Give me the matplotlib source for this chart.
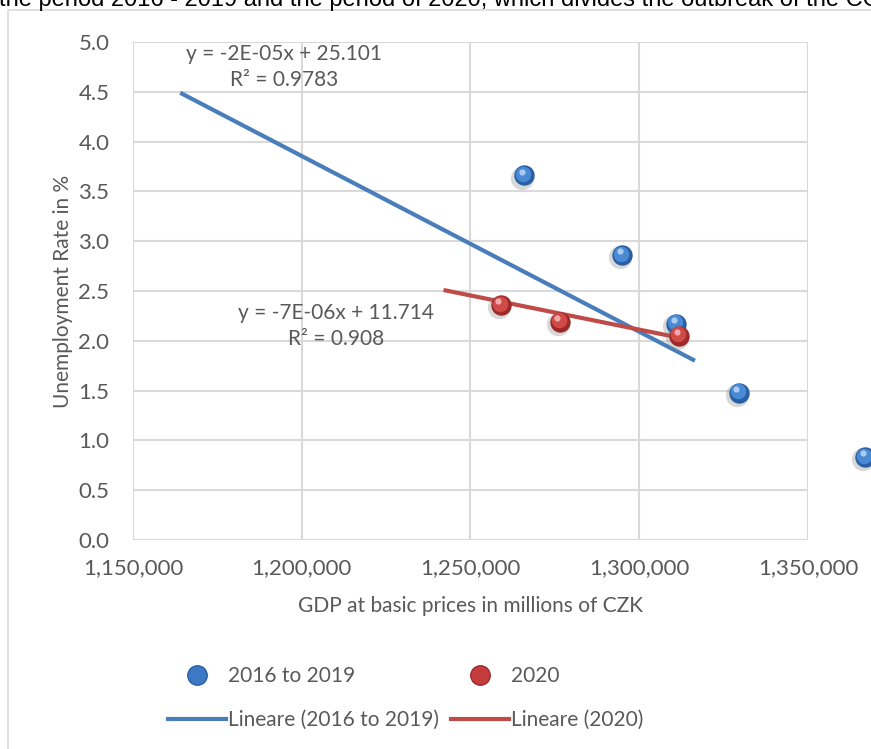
import matplotlib
matplotlib.use("Agg")
import matplotlib.pyplot as plt
from matplotlib.patches import Rectangle
from matplotlib.lines import Line2D
from matplotlib.transforms import offset_copy

plt.rcParams['font.family'] = ['Lato', 'DejaVu Sans']

# data
gdp_1619 = [1266000, 1295000, 1311000, 1329500, 1367000]
unemp_1619 = [3.66, 2.86, 2.17, 1.48, 0.83]
gdp_2020 = [1259000, 1276500, 1311800]
unemp_2020 = [2.36, 2.19, 2.05]

# trendlines (as drawn, with forecast extension)
trend_x_1619 = [1164000, 1316500]
trend_y_1619 = [4.49, 1.80]
trend_x_2020 = [1242000, 1312000]
trend_y_2020 = [2.51, 2.03]

eq_1619 = "y = -2E-05x + 25.101\nR² = 0.9783"
eq_2020 = "y = -7E-06x + 11.714\nR² = 0.908"

x_ticks = [1150000, 1200000, 1250000, 1300000, 1350000]
y_ticks = [0.0, 0.5, 1.0, 1.5, 2.0, 2.5, 3.0, 3.5, 4.0, 4.5, 5.0]

grey = "#595959"
blue_line = "#4a7ebb"
red_line = "#be4b48"
fs = 15

W, H = 871, 749
fig = plt.figure(figsize=(W / 100, H / 100), dpi=100)


def fx(px):
    return px / W


def fy(py):
    return 1 - py / H


# chart frame and cut-off text above it
fig.patches.append(Rectangle((fx(8), fy(780)), 1, fy(10) - fy(780), transform=fig.transFigure,
                             facecolor="none", edgecolor="#d9d9d9", lw=1.2, zorder=-1))
fig.text(fx(-1), fy(0), "the period 2016 - 2019 and the period of 2020, which divides the outbreak of the COVID",
         fontsize=17, family="Liberation Sans", color="black", va="center", ha="left")

ax = fig.add_axes([fx(133), fy(540), fx(808) - fx(133), fy(42) - fy(540)])
ax.set_zorder(1)
ax.patch.set_alpha(0)
ax.set_xlim(1150000, 1350000)
ax.set_ylim(0, 5)
ax.set_xticks(x_ticks)
ax.set_yticks(y_ticks)
ax.set_xticklabels([f"{v:,}" for v in x_ticks])
ax.set_yticklabels([f"{v:.1f}" for v in y_ticks])
for s in ax.spines.values():
    s.set_visible(False)
ax.grid(True, color="#d9d9d9", lw=1.5)
ax.set_axisbelow(True)
ax.tick_params(length=0, labelsize=16, colors=grey)
ax.tick_params(axis="y", pad=17)
ax.tick_params(axis="x", pad=13)
ax.set_xlabel("GDP at basic prices in millions of CZK", fontsize=fs, color=grey, labelpad=13)
ax.set_ylabel("Unemployment Rate in %", fontsize=fs, color=grey, labelpad=4)

ax.plot(trend_x_1619, trend_y_1619, color=blue_line, lw=3, zorder=3, solid_capstyle="butt")
ax.plot(trend_x_2020, trend_y_2020, color=red_line, lw=3, zorder=5, solid_capstyle="butt")


def spheres(x, y, dark, mid, light, z):
    shadow = offset_copy(ax.transData, fig=fig, x=-1.5, y=-1.5, units="points")
    ax.scatter(x, y, s=280, color="#7f7f7f", alpha=0.3, lw=0, transform=shadow, zorder=z, clip_on=False)
    ax.scatter(x, y, s=215, color=dark, lw=0, zorder=z + 0.1, clip_on=False)
    hi = offset_copy(ax.transData, fig=fig, x=-0.8, y=1.0, units="points")
    ax.scatter(x, y, s=125, color=mid, lw=0, transform=hi, zorder=z + 0.2, clip_on=False)
    hi2 = offset_copy(ax.transData, fig=fig, x=-1.8, y=2.8, units="points")
    ax.scatter(x, y, s=20, color=light, lw=0, transform=hi2, zorder=z + 0.3, clip_on=False)


spheres(gdp_1619, unemp_1619, "#2a5fa3", "#4a8ad4", "#a9cbf0", 4)
spheres(gdp_2020, unemp_2020, "#9c2a2a", "#d04a48", "#f0a9a8", 6)

fig.text(fx(284), fy(67), eq_1619, fontsize=fs, color=grey, ha="center", va="center", linespacing=1.35)
fig.text(fx(336), fy(326), eq_2020, fontsize=fs, color=grey, ha="center", va="center", linespacing=1.35)

# legend
handles = [
    Line2D([], [], ls="none", marker="o", markersize=14, markerfacecolor="#3d78c4", markeredgecolor="#2a5fa3"),
    Line2D([], [], color=blue_line, lw=3),
    Line2D([], [], ls="none", marker="o", markersize=14, markerfacecolor="#c43c3b", markeredgecolor="#9c2a2a"),
    Line2D([], [], color=red_line, lw=3),
]
labels = ["2016 to 2019", "Lineare (2016 to 2019)", "2020", "Lineare (2020)"]
fig.legend(handles, labels, ncol=2, loc="center left", bbox_to_anchor=(fx(168), fy(698)),
           frameon=False, fontsize=fs, labelcolor=grey, handlelength=2.8, handletextpad=0.1,
           columnspacing=0.55, labelspacing=1.15, borderpad=0, borderaxespad=0)

fig.savefig("out.png", dpi=100)
